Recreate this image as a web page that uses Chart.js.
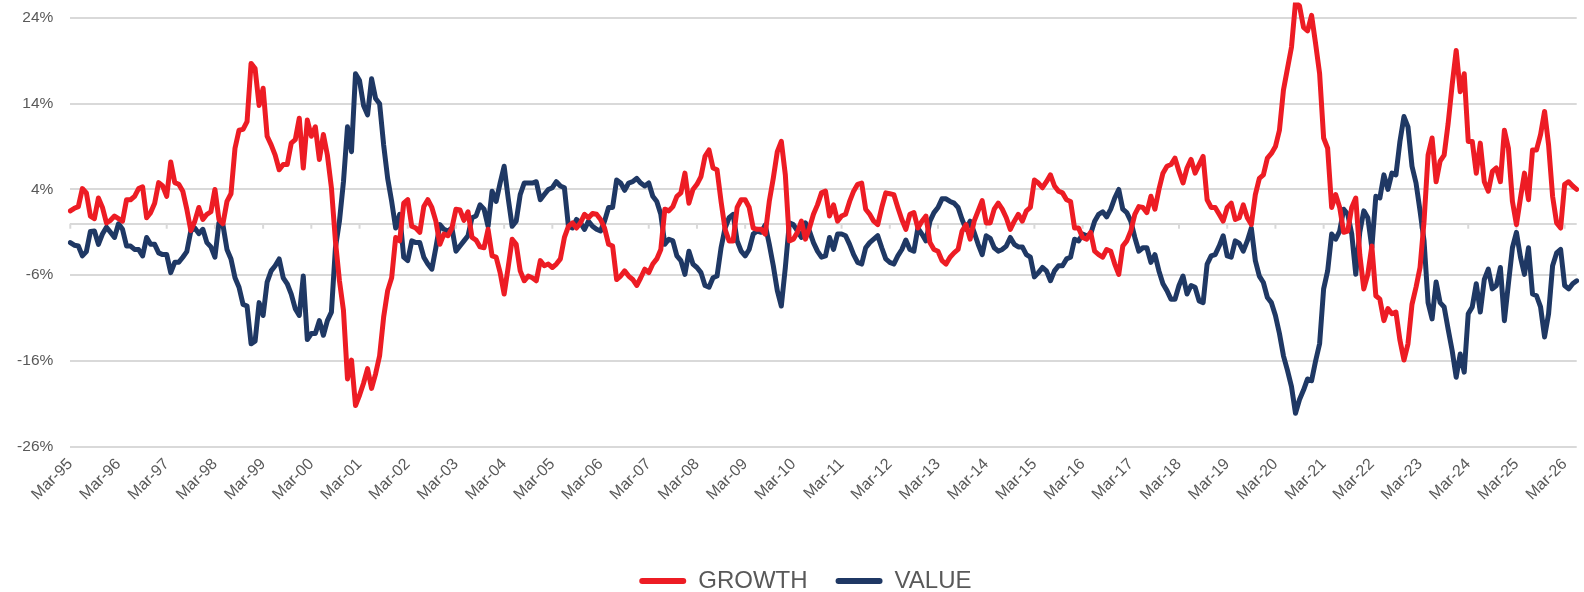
<!DOCTYPE html>
<html>
<head>
<meta charset="utf-8">
<script src="https://cdn.jsdelivr.net/npm/chart.js@4.4.1/dist/chart.umd.min.js"></script>
<style>
html,body{margin:0;padding:0;background:#fff;}
#wrap{width:1584px;height:592px;position:relative;}
</style>
</head>
<body>
<div id="wrap"><canvas id="c" width="1584" height="592"></canvas></div>
<script>
const START_YEAR = 1995;
const START_MONTH = 2; // March
const MONTH_NAMES = ['Jan','Feb','Mar','Apr','May','Jun','Jul','Aug','Sep','Oct','Nov','Dec'];

const growth = [
 1.5, 1.8, 2.0, 4.1, 3.6, 0.9, 0.6, 3.0, 1.9, 0.1,
 0.4, 0.9, 0.6, 0.3, 2.8, 2.8, 3.2, 4.1, 4.3, 0.7,
 1.3, 2.4, 4.8, 4.4, 3.2, 7.2, 4.8, 4.6, 3.8, 1.7,
 -0.8, 0.3, 1.9, 0.5, 1.1, 1.4, 4.0, 0.5, 0.0, 2.6,
 3.5, 8.8, 10.9, 11.0, 11.9, 18.7, 18.1, 13.8, 15.8, 10.2,
 9.2, 8.0, 6.3, 6.9, 6.9, 9.4, 9.8, 12.3, 6.5, 12.1,
 10.2, 11.3, 7.5, 10.4, 8.0, 4.2, -2.0, -6.65, -10.1, -18.1,
 -15.9, -21.2, -20.0, -18.6, -16.9, -19.2, -17.5, -15.4, -10.9, -7.8,
 -6.3, -1.6, -2.0, 2.4, 2.8, -0.3, -0.5, -1.0, 2.0, 2.8,
 1.9, 0.3, -2.4, -1.2, -1.4, -0.5, 1.7, 1.6, 0.4, 1.4,
 -1.6, -1.9, -2.7, -2.8, -0.65, -3.75, -3.9, -5.7, -8.2, -5.1,
 -1.8, -2.4, -5.5, -6.65, -6.1, -6.3, -6.65, -4.3, -4.9, -4.7,
 -5.1, -4.7, -4.1, -1.6, -0.3, 0.1, -0.5, 0.1, 1.1, 0.7,
 1.2, 1.1, 0.5, -0.5, -2.4, -2.6, -6.5, -6.1, -5.5, -6.1,
 -6.5, -7.2, -6.3, -5.3, -5.7, -4.7, -4.1, -3.0, 1.7, 1.5,
 2.0, 3.2, 3.6, 5.9, 2.4, 4.0, 4.6, 5.5, 7.85, 8.6,
 6.5, 6.3, 2.6, -0.65, -2.0, -2.0, 1.9, 2.8, 2.8, 1.9,
 -0.5, -0.65, -0.65, -1.2, 2.6, 5.3, 8.4, 9.6, 5.7, -2.0,
 -1.8, -1.0, 0.3, -1.8, -0.5, 1.1, 2.2, 3.6, 3.8, 0.9,
 2.2, 0.3, 0.9, 1.1, 2.6, 3.8, 4.6, 4.75, 1.7, 1.1,
 0.3, -0.1, 1.9, 3.6, 3.5, 3.4, 1.9, 0.5, -0.65, 1.1,
 1.3, -0.5, 0.3, 0.9, -2.2, -3.0, -3.2, -4.3, -4.7, -3.9,
 -3.4, -3.0, -0.85, -0.1, -1.8, 0.3, 1.5, 2.7, 0.1, 0.1,
 1.7, 2.4, 1.7, 0.7, -0.65, 0.3, 1.1, 0.3, 1.5, 1.9,
 5.1, 4.75, 4.2, 4.9, 5.7, 4.4, 3.8, 3.6, 2.8, 2.6,
 -0.5, -0.5, -1.6, -1.8, -1.0, -3.2, -3.6, -3.9, -3.0, -3.2,
 -4.7, -5.9, -2.6, -2.0, -0.85, 1.1, 2.0, 1.9, 1.3, 3.2,
 1.7, 4.0, 5.9, 6.7, 6.9, 7.65, 6.1, 4.75, 6.5, 7.5,
 5.9, 6.9, 7.85, 2.8, 1.9, 1.9, 1.1, 0.3, 1.9, 2.4,
 0.5, 0.7, 2.2, 0.7, -0.1, 3.4, 5.3, 5.7, 7.65, 8.2,
 9.0, 10.9, 15.6, 18.1, 20.6, 25.8, 25.4, 22.9, 22.5, 24.3,
 21.0, 17.5, 10.0, 8.8, 1.9, 3.4, 1.9, -1.0, -0.85, 1.9,
 3.0, -3.6, -7.6, -5.9, -2.6, -8.4, -8.8, -11.3, -9.9, -10.5,
 -10.3, -13.6, -15.9, -14.0, -9.4, -7.4, -5.1, 0.3, 8.0, 10.0,
 4.9, 7.3, 8.0, 11.7, 16.2, 20.2, 15.4, 17.5, 9.6, 9.6,
 5.9, 9.4, 4.9, 3.8, 6.1, 6.5, 4.9, 10.9, 8.8, 2.6,
 -0.1, 3.0, 5.9, 2.8, 8.6, 8.6, 10.4, 13.1, 9.2, 3.2,
 0.1, -0.5, 4.6, 4.9, 4.4, 4.0
];

const value = [
 -2.2, -2.5, -2.6, -3.75, -3.25, -0.9, -0.85, -2.4, -1.2, -0.4,
 -1.0, -1.6, 0.0, -0.65, -2.6, -2.6, -3.0, -3.0, -3.75, -1.6,
 -2.4, -2.4, -3.4, -3.6, -3.6, -5.7, -4.5, -4.5, -3.9, -3.25,
 -0.85, -0.5, -1.15, -0.65, -2.2, -2.7, -3.9, 0.1, -0.15, -3.0,
 -4.1, -6.3, -7.4, -9.4, -9.6, -14.0, -13.7, -9.2, -10.7, -6.8,
 -5.5, -4.9, -4.1, -6.3, -7.0, -8.2, -9.9, -10.7, -6.1, -13.5,
 -12.8, -12.8, -11.3, -13.0, -11.3, -10.3, -2.8, 0.3, 4.9, 11.3,
 8.4, 17.5, 16.7, 13.8, 12.7, 16.9, 14.6, 14.0, 9.2, 5.3,
 2.6, -0.5, 1.1, -3.9, -4.3, -2.0, -2.2, -2.2, -3.9, -4.7,
 -5.3, -2.8, -0.1, -0.65, -0.85, -0.5, -3.2, -2.6, -2.0, -1.4,
 0.7, 0.9, 2.2, 1.7, -0.3, 3.8, 2.6, 4.75, 6.7, 3.0,
 -0.3, 0.3, 3.4, 4.75, 4.75, 4.75, 4.9, 2.8, 3.4, 4.0,
 4.2, 4.9, 4.4, 4.2, -0.3, -0.5, 0.5, 0.1, -0.65, 0.3,
 -0.3, -0.65, -0.85, 0.3, 1.9, 1.9, 5.1, 4.75, 3.9, 4.75,
 4.9, 5.3, 4.75, 4.4, 4.75, 3.2, 2.6, 1.1, -2.4, -1.8,
 -2.0, -3.75, -4.3, -5.9, -3.2, -4.7, -5.1, -5.7, -7.2, -7.4,
 -6.3, -6.1, -2.8, -0.5, 0.7, 1.1, -2.0, -3.2, -3.75, -3.0,
 -1.2, -0.85, -1.0, -0.15, -2.4, -4.9, -7.8, -9.6, -5.1, 0.1,
 -0.1, -0.85, -1.6, 0.1, -0.85, -2.2, -3.2, -3.9, -3.75, -1.6,
 -3.0, -1.2, -1.2, -1.4, -2.4, -3.6, -4.5, -4.7, -2.8, -2.2,
 -1.8, -1.4, -2.8, -4.1, -4.5, -4.7, -3.75, -3.0, -1.9, -3.0,
 -3.2, -0.5, -1.2, -2.0, 0.3, 1.3, 1.9, 2.9, 2.9, 2.6,
 2.4, 1.9, 0.5, -0.65, 0.3, -1.0, -2.4, -3.6, -1.4, -1.7,
 -2.8, -3.2, -3.0, -2.6, -1.6, -2.4, -2.7, -2.7, -3.6, -3.9,
 -6.2, -5.7, -5.1, -5.5, -6.65, -5.5, -4.9, -4.9, -4.1, -3.9,
 -1.8, -2.0, -1.2, -1.4, -1.2, 0.3, 1.1, 1.4, 0.8, 1.7,
 3.0, 4.0, 1.7, 1.3, 0.3, -1.6, -3.2, -2.8, -2.8, -4.5,
 -3.6, -5.5, -7.0, -7.8, -8.8, -8.8, -7.2, -6.1, -8.2, -7.2,
 -7.4, -9.0, -9.2, -4.7, -3.75, -3.6, -2.6, -1.4, -3.75, -3.9,
 -2.0, -2.3, -3.2, -2.0, -0.5, -4.3, -6.1, -6.85, -8.6, -9.2,
 -10.7, -12.8, -15.4, -17.1, -19.0, -22.1, -20.5, -19.4, -18.1, -18.3,
 -16.0, -14.0, -7.6, -5.5, -1.2, -1.8, -0.85, 1.7, 1.1, -1.2,
 -5.9, -1.0, 1.5, 0.7, -2.8, 3.2, 3.0, 5.7, 4.0, 5.9,
 5.7, 9.6, 12.5, 11.3, 6.7, 4.75, 1.5, -2.0, -9.2, -11.1,
 -6.8, -9.2, -9.7, -12.3, -14.8, -17.9, -15.2, -17.3, -10.5, -9.7,
 -7.0, -10.3, -6.5, -5.3, -7.6, -7.2, -5.1, -11.3, -7.0, -2.8,
 -1.0, -3.9, -5.9, -2.8, -8.2, -8.4, -9.7, -13.2, -10.5, -4.9,
 -3.4, -3.0, -7.2, -7.6, -7.0, -6.65
];

const yTickValues = [-26, -16, -6, 0, 4, 14, 24];
const seriesNames = ['GROWTH', 'VALUE'];
const seriesColors = ['#ED1C24', '#1F3864'];

const labels = growth.map((_, i) => {
  const k = START_MONTH + i;
  const yy = (START_YEAR + Math.floor(k / 12)) % 100;
  return MONTH_NAMES[k % 12] + '-' + String(yy).padStart(2, '0');
});

const TARGET = { left: 70.3, right: 1576.7, top: 0, bottom: 446.7 };
const PAD_LEFT = 34;
let xAxisHeight = 100;

const zeroTicks = {
  id: 'zeroTicks',
  beforeDatasetsDraw(chart) {
    const { ctx, scales: { x, y } } = chart;
    const y0 = y.getPixelForValue(0);
    ctx.save();
    ctx.strokeStyle = '#d9d9d9';
    ctx.lineWidth = 2;
    for (let i = 0; i < labels.length; i += 12) {
      const px = x.getPixelForValue(i);
      ctx.beginPath();
      ctx.moveTo(px, y0);
      ctx.lineTo(px, y0 + 5);
      ctx.stroke();
    }
    ctx.restore();
  }
};

const chart = new Chart(document.getElementById('c'), {
  type: 'line',
  data: {
    labels: labels,
    datasets: [
      { label: seriesNames[0], data: growth, borderColor: seriesColors[0], backgroundColor: seriesColors[0],
        borderWidth: 5, pointRadius: 0, tension: 0, borderJoinStyle: 'round', borderCapStyle: 'round', fill: false },
      { label: seriesNames[1], data: value, borderColor: seriesColors[1], backgroundColor: seriesColors[1],
        borderWidth: 5, pointRadius: 0, tension: 0, borderJoinStyle: 'round', borderCapStyle: 'round', fill: false }
    ]
  },
  options: {
    responsive: false,
    animation: false,
    devicePixelRatio: 1,
    layout: { padding: { left: PAD_LEFT, right: 1584 - TARGET.right, top: 0, bottom: -11 } },
    plugins: {
      tooltip: { enabled: false },
      legend: {
        position: 'bottom',
        labels: {
          boxWidth: 47, boxHeight: 6, padding: 28,
          color: '#595959',
          font: { family: 'Liberation Sans', size: 24 },
          generateLabels(ch) {
            return ch.data.datasets.map((d, i) => ({
              text: d.label, fillStyle: d.borderColor, strokeStyle: d.borderColor,
              lineWidth: 0, borderRadius: 3, hidden: false, datasetIndex: i, fontColor: '#595959'
            }));
          }
        }
      }
    },
    scales: {
      x: {
        type: 'category',
        offset: false,
        grid: { display: false },
        border: { display: false },
        ticks: {
          autoSkip: false, maxRotation: 45, minRotation: 45, padding: 0,
          color: '#595959',
          font: { family: 'Liberation Sans', size: 16 },
          callback(v, i) { return i % 12 === 0 ? labels[i] : null; }
        },
        afterFit(s) { s.paddingLeft = 0; s.paddingRight = 0; s.height = xAxisHeight; }
      },
      y: {
        min: -26, max: 25.8,
        afterBuildTicks(s) { s.ticks = yTickValues.map(v => ({ value: v })); },
        grid: { color: '#d9d9d9', lineWidth: 2, drawTicks: false },
        border: { display: false },
        ticks: {
          padding: 17, color: '#595959',
          font: { family: 'Liberation Sans', size: 15.5 },
          callback(v) { return v === 0 ? '' : v + '%'; }
        },
        afterFit(s) {
          s.width = TARGET.left - PAD_LEFT;
          s.paddingTop = 0; s.paddingBottom = 0;
          s._computeLabelArea = () => undefined;
        }
      }
    }
  },
  plugins: [zeroTicks]
});

const diff = chart.chartArea.bottom - TARGET.bottom;
if (Math.abs(diff) > 0.2) {
  xAxisHeight += diff;
  chart.update();
}
</script>
</body>
</html>
